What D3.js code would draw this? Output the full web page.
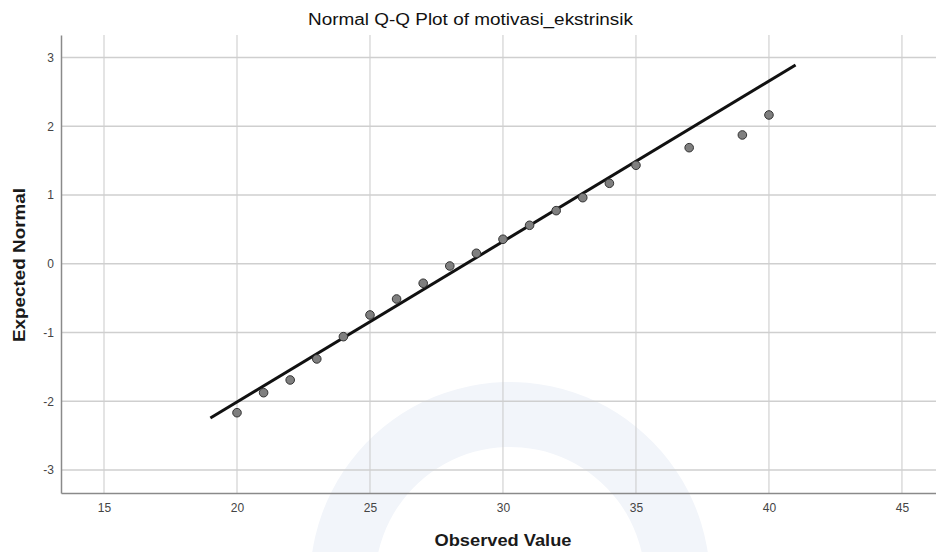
<!DOCTYPE html>
<html>
<head>
<meta charset="utf-8">
<script src="https://cdn.jsdelivr.net/npm/d3@7"></script>
<style>
  html, body { margin: 0; padding: 0; background: #fff; }
  svg { display: block; font-family: "Liberation Sans", Arial, sans-serif; }
</style>
</head>
<body>
<svg id="chart" width="936" height="552"></svg>
<script>
// ---- data ----
const chartTitle = "Normal Q-Q Plot of motivasi_ekstrinsik";
const xTitle = "Observed Value";
const yTitle = "Expected Normal";
const observed = [20, 21, 22, 23, 24, 25, 26, 27, 28, 29, 30, 31, 32, 33, 34, 35, 37, 39, 40];
const expected = [-2.167, -1.876, -1.691, -1.385, -1.061, -0.745, -0.513, -0.284, -0.033, 0.152, 0.356, 0.559, 0.772, 0.961, 1.170, 1.432, 1.688, 1.873, 2.164];
const lineX = [19, 41];
const lineY = [-2.244, 2.891];
const xTicks = [15, 20, 25, 30, 35, 40, 45];
const yTicks = [-3, -2, -1, 0, 1, 2, 3];
const xDomain = [13.383, 46.28];
const yDomain = [-3.335, 3.327];

// ---- layout ----
const svg = d3.select("#chart");
const mLeft = 61, mRight = 936, mTop = 35, mBottom = 493;

const x = d3.scaleLinear().domain(xDomain).range([mLeft, mRight]);
const y = d3.scaleLinear().domain(yDomain).range([mBottom, mTop]);

// very faint background logo arc
svg.append("path")
  .attr("transform", "translate(510,582)")
  .attr("d", d3.arc()({innerRadius: 135, outerRadius: 200, startAngle: -2.05, endAngle: 1.75}))
  .attr("fill", "#f2f5fa");

// grid
const grid = svg.append("g");
grid.selectAll("line.gx").data(xTicks).join("line")
  .attr("x1", d => x(d)).attr("x2", d => x(d))
  .attr("y1", mTop).attr("y2", mBottom)
  .attr("stroke", "#c9c9c9").attr("stroke-width", 1);
grid.selectAll("line.gy").data(yTicks).join("line")
  .attr("x1", mLeft).attr("x2", mRight)
  .attr("y1", d => y(d)).attr("y2", d => y(d))
  .attr("stroke", "#cfcfcf").attr("stroke-width", 1.5);

// axes
const xAxis = d3.axisBottom(x).tickValues(xTicks).tickSize(0).tickPadding(10);
const yAxis = d3.axisLeft(y).tickValues(yTicks).tickSize(0).tickPadding(7)
  .tickFormat(d => d < 0 ? "-" + Math.abs(d) : String(d));

const gx = svg.append("g").attr("transform", `translate(0,${mBottom})`).call(xAxis);
gx.select(".domain").attr("stroke", "#8a8a8a").attr("stroke-width", 1.5);
gx.selectAll("text").attr("font-size", 12).attr("fill", "#444").attr("font-family", "Liberation Sans, Arial, sans-serif");

const gy = svg.append("g").attr("transform", `translate(${mLeft},0)`).call(yAxis);
gy.select(".domain").attr("stroke", "#8a8a8a").attr("stroke-width", 1.5);
gy.selectAll("text").attr("font-size", 12).attr("fill", "#444").attr("font-family", "Liberation Sans, Arial, sans-serif");

// reference line
svg.append("line")
  .attr("x1", x(lineX[0])).attr("y1", y(lineY[0]))
  .attr("x2", x(lineX[1])).attr("y2", y(lineY[1]))
  .attr("stroke", "#111").attr("stroke-width", 3);

// points
svg.append("g").selectAll("circle").data(observed.map((d, i) => [d, expected[i]])).join("circle")
  .attr("cx", d => x(d[0])).attr("cy", d => y(d[1]))
  .attr("r", 4.3)
  .attr("fill", "#7f7f7f").attr("stroke", "#333").attr("stroke-width", 1);

// titles
svg.append("text").attr("x", 470.5).attr("y", 25).attr("text-anchor", "middle")
  .attr("font-size", 16).attr("fill", "#111")
  .attr("textLength", 325).attr("lengthAdjust", "spacingAndGlyphs")
  .text(chartTitle);
svg.append("text").attr("x", 503).attr("y", 546).attr("text-anchor", "middle")
  .attr("font-size", 17).attr("font-weight", "bold").attr("fill", "#1a1a1a")
  .attr("textLength", 137).attr("lengthAdjust", "spacingAndGlyphs")
  .text(xTitle);
svg.append("text").attr("transform", "translate(25,265) rotate(-90)").attr("text-anchor", "middle")
  .attr("font-size", 17).attr("font-weight", "bold").attr("fill", "#1a1a1a")
  .attr("textLength", 154).attr("lengthAdjust", "spacingAndGlyphs")
  .text(yTitle);
</script>
</body>
</html>
